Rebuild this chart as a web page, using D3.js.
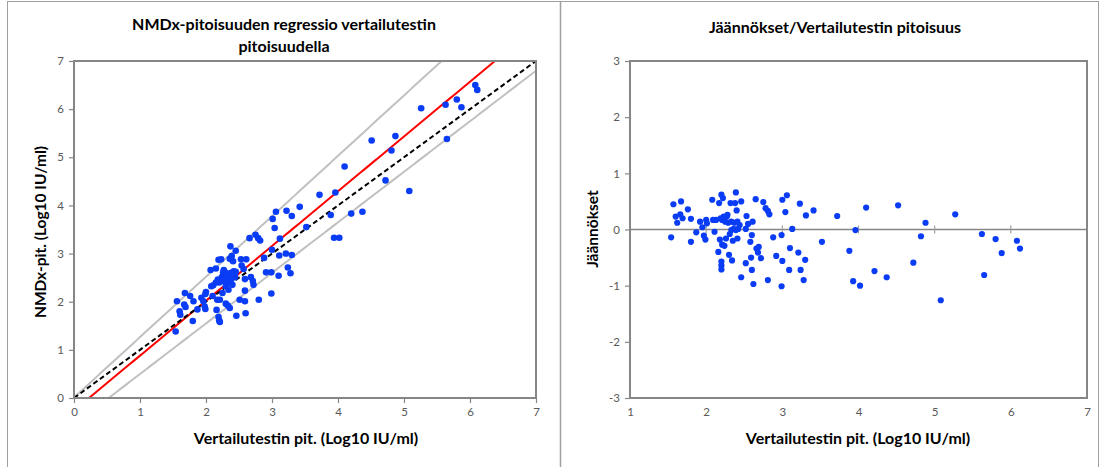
<!DOCTYPE html>
<html><head><meta charset="utf-8">
<script src="https://cdn.jsdelivr.net/npm/d3@7"></script>
<style>
html,body{margin:0;padding:0;background:#fff;}
svg{display:block;font-family:Lato,"Open Sans",sans-serif;}
</style></head>
<body>
<svg id="c" width="1100" height="467"></svg>
<script>
// ---- Data ----
const leftTitle = ["NMDx-pitoisuuden regressio vertailutestin", "pitoisuudella"];
const rightTitle = "Jäännökset/Vertailutestin pitoisuus";
const xLabel = "Vertailutestin pit. (Log10 IU/ml)";
const leftYLabel = "NMDx-pit. (Log10 IU/ml)";
const rightYLabel = "Jäännökset";

const leftXTicks = [0,1,2,3,4,5,6,7];
const leftYTicks = [0,1,2,3,4,5,6,7];
const rightXTicks = [1,2,3,4,5,6,7];
const rightYTicks = [-3,-2,-1,0,1,2,3];

// Scatter: reference test value (x) vs NMDx value (y)
const leftX = [1.54,1.56,1.60,1.61,1.68,1.67,1.69,1.76,1.80,1.81,1.87,1.93,1.96,1.98,1.99,1.99,2.00,2.07,2.08,2.11,2.10,2.15,2.16,2.15,2.18,2.17,2.19,2.19,2.20,2.21,2.21,2.23,2.24,2.25,2.26,2.27,2.30,2.30,2.31,2.33,2.34,2.36,2.36,2.37,2.39,2.38,2.40,2.41,2.42,2.44,2.45,2.46,2.51,2.53,2.54,2.57,2.59,2.59,2.60,2.61,2.59,2.66,2.68,2.71,2.72,2.75,2.79,2.82,2.80,2.88,2.91,2.99,2.99,3.00,3.01,3.04,3.06,3.10,3.11,3.12,3.21,3.22,3.24,3.28,3.30,3.30,3.42,3.52,3.72,3.89,3.94,3.96,4.02,4.10,4.20,4.37,4.51,4.72,4.81,4.87,5.08,5.26,5.63,5.65,5.80,5.87,6.08,6.11,
  2.22,2.25,2.28,2.30,2.33,2.35,2.38,2.40,2.43,2.28,2.20,2.32,2.45,2.27,2.36];
const leftY = [1.38,2.01,1.80,1.73,2.18,1.94,1.89,2.12,1.60,2.01,1.84,2.08,2.01,1.90,1.85,2.16,2.20,2.66,2.32,2.34,2.12,2.69,1.83,2.40,2.46,2.04,2.87,1.68,1.61,1.58,2.04,2.88,2.51,2.18,2.61,2.56,1.96,2.32,2.49,1.92,2.25,1.87,2.89,3.15,2.95,2.46,2.35,2.84,2.63,2.51,3.06,1.71,2.04,2.88,2.75,2.68,2.23,2.01,1.76,2.88,2.47,3.32,2.51,2.43,2.35,3.39,3.32,3.27,2.04,2.91,2.61,2.61,2.17,3.08,3.72,3.53,3.87,2.54,2.96,3.31,3.00,3.89,2.71,2.59,3.78,2.97,3.97,3.55,4.22,3.80,3.33,4.27,3.33,4.81,3.83,3.87,5.35,4.52,5.14,5.44,4.30,6.02,6.09,5.38,6.20,6.04,6.50,6.40,
  2.45,2.50,2.55,2.60,2.48,2.55,2.60,2.52,2.58,2.42,2.40,2.38,2.62,2.66,2.45];

// Reference lines: [slope, intercept]
const identityLine = [1.0, 0.0];
const regressionLine = [1.138, -0.258];
const upperBand = [1.255, 0.01];
const lowerBand = [1.05, -0.551];

// Residuals vs reference test value
const resX = [1.54,1.57,1.60,1.62,1.66,1.67,1.69,1.76,1.80,1.80,1.87,1.92,1.95,1.97,1.99,2.00,2.01,2.08,2.09,2.11,2.13,2.16,2.17,2.18,2.19,2.20,2.20,2.20,2.20,2.21,2.21,2.22,2.23,2.24,2.25,2.26,2.27,2.28,2.29,2.30,2.31,2.32,2.33,2.33,2.34,2.35,2.36,2.37,2.38,2.39,2.39,2.40,2.41,2.41,2.42,2.44,2.46,2.46,2.52,2.52,2.53,2.55,2.58,2.59,2.60,2.60,2.61,2.62,2.65,2.66,2.68,2.69,2.72,2.75,2.78,2.81,2.83,2.81,2.88,2.92,2.99,3.00,3.00,2.99,3.04,3.06,3.10,3.09,3.13,3.21,3.23,3.24,3.28,3.30,3.31,3.41,3.52,3.72,3.88,3.93,3.96,4.02,4.10,4.21,4.37,4.52,4.72,4.82,4.88,5.08,5.27,5.62,5.65,5.80,5.88,6.08,6.12];
const resY = [-0.14,0.45,0.23,0.12,0.27,0.50,0.20,0.36,0.19,-0.22,-0.05,0.14,0.04,-0.11,-0.18,0.17,0.11,0.53,0.17,-0.04,0.17,-0.40,0.47,-0.18,0.20,0.62,-0.64,-0.57,-0.71,-0.27,0.17,0.56,0.23,-0.29,0.14,-0.16,0.23,0.26,0.12,-0.45,-0.08,0.47,0.14,-0.01,-0.55,-0.20,0.01,0.12,0.47,0.66,-0.01,0.34,-0.16,0.14,0.01,0.08,0.50,-0.85,0.01,-0.60,0.24,0.10,-0.22,-0.50,-0.10,-0.72,0.14,-0.97,0.54,-0.34,-0.41,-0.31,-0.51,0.49,0.38,0.33,0.27,-0.90,-0.14,-0.47,-0.10,0.53,-0.56,-1.01,0.31,0.61,-0.33,-0.72,0.01,-0.41,0.46,-0.72,-0.90,-0.54,0.25,0.34,-0.22,0.24,-0.38,-0.92,-0.01,-1.00,0.39,-0.74,-0.85,0.43,-0.59,-0.12,0.12,-1.26,0.27,-0.08,-0.81,-0.17,-0.42,-0.20,-0.34];

// ---- Drawing ----
const svg = d3.select("#c");
const GRID = "#868686", TICKTXT = "#595959", DOT = "#0a3cf5";
const fmt = d => String(d);

// panel frames
svg.append("rect").attr("x",7.5).attr("y",1.5).attr("width",1091).attr("height",470)
  .attr("fill","none").attr("stroke","#a0a0a0").attr("stroke-width",1);
svg.append("line").attr("x1",560.5).attr("x2",560.5).attr("y1",1).attr("y2",467)
  .attr("stroke","#a0a0a0").attr("stroke-width",1.5);

function styleAxis(g){
  g.select(".domain").remove();
  g.selectAll(".tick line").attr("stroke",GRID).attr("stroke-width",1.2);
  g.selectAll(".tick text").attr("fill",TICKTXT).style("font-size","11.5px")
    .style("font-family","Lato, sans-serif");
}

// ===== Left chart =====
const lx = d3.scaleLinear().domain([0,7]).range([74,536]);
const ly = d3.scaleLinear().domain([0,7]).range([398,61]);

svg.append("clipPath").attr("id","clipL").append("rect")
  .attr("x",lx(0)).attr("y",ly(7)).attr("width",lx(7)-lx(0)).attr("height",ly(0)-ly(7));

const gL = svg.append("g");
gL.append("g").attr("transform",`translate(0,${ly(0)})`)
  .call(d3.axisBottom(lx).tickValues(leftXTicks).tickSize(5).tickPadding(5).tickFormat(fmt))
  .call(styleAxis);
gL.append("g").attr("transform",`translate(${lx(0)},0)`)
  .call(d3.axisLeft(ly).tickValues(leftYTicks).tickSize(5).tickPadding(5).tickFormat(fmt))
  .call(styleAxis);

const lineGen = (m) => { const xs = d3.range(0, 7.001, 0.05); return xs.map(x=>[lx(x), ly(m[0]*x+m[1])]); };
const linesG = gL.append("g").attr("clip-path","url(#clipL)");
function drawLine(m, color, dash){
  linesG.append("path").attr("d", d3.line()(lineGen(m))).attr("fill","none")
    .attr("stroke",color).attr("stroke-width",2).attr("stroke-dasharray",dash||null);
}
drawLine(upperBand, "#c0c0c0");
drawLine(lowerBand, "#c0c0c0");
drawLine(regressionLine, "#ff0000");
drawLine(identityLine, "#000000", "5,3");

gL.append("g").selectAll("circle").data(leftX.map((x,i)=>[x,leftY[i]])).join("circle")
  .attr("cx",d=>lx(d[0])).attr("cy",d=>ly(d[1])).attr("r",3.3).attr("fill",DOT);

gL.append("rect").attr("x",lx(0)).attr("y",ly(7)).attr("width",lx(7)-lx(0)).attr("height",ly(0)-ly(7))
  .attr("fill","none").attr("stroke",GRID).attr("stroke-width",2);

gL.append("text").attr("x",284).attr("y",30).attr("text-anchor","middle")
  .style("font-weight","bold").style("font-size","16px").text(leftTitle[0]);
gL.append("text").attr("x",284).attr("y",52).attr("text-anchor","middle")
  .style("font-weight","bold").style("font-size","16px").text(leftTitle[1]);
gL.append("text").attr("x",306).attr("y",444).attr("text-anchor","middle")
  .style("font-weight","bold").style("font-size","16px").text(xLabel);
gL.append("text").attr("transform","translate(46,232) rotate(-90)").attr("text-anchor","middle")
  .style("font-weight","bold").style("font-size","15.5px").text(leftYLabel);

// ===== Right chart =====
const rx = d3.scaleLinear().domain([1,7]).range([630,1087]);
const ry = d3.scaleLinear().domain([-3,3]).range([398,61]);
const gR = svg.append("g");

gR.append("g").attr("transform",`translate(0,${ry(-3)})`)
  .call(d3.axisBottom(rx).tickValues(rightXTicks).tickSize(0).tickPadding(10).tickFormat(fmt))
  .call(styleAxis);
gR.append("g").attr("transform",`translate(${rx(1)},0)`)
  .call(d3.axisLeft(ry).tickValues(rightYTicks).tickSize(5).tickPadding(5).tickFormat(fmt))
  .call(styleAxis);

// zero line with tick marks
gR.append("line").attr("x1",rx(1)).attr("x2",rx(7)).attr("y1",ry(0)).attr("y2",ry(0))
  .attr("stroke",GRID).attr("stroke-width",1.5);
gR.append("g").selectAll("line").data(rightXTicks.filter(d=>d>1 && d<7)).join("line")
  .attr("x1",d=>rx(d)).attr("x2",d=>rx(d)).attr("y1",ry(0)-4).attr("y2",ry(0)+4)
  .attr("stroke","#a0a0a0").attr("stroke-width",1.2);

gR.append("g").selectAll("circle").data(resX.map((x,i)=>[x,resY[i]])).join("circle")
  .attr("cx",d=>rx(d[0])).attr("cy",d=>ry(d[1])).attr("r",3.1).attr("fill",DOT);

gR.append("rect").attr("x",rx(1)).attr("y",ry(3)).attr("width",rx(7)-rx(1)).attr("height",ry(-3)-ry(3))
  .attr("fill","none").attr("stroke",GRID).attr("stroke-width",2);

gR.append("text").attr("x",835).attr("y",33).attr("text-anchor","middle")
  .style("font-weight","bold").style("font-size","16px").text(rightTitle);
gR.append("text").attr("x",858).attr("y",444).attr("text-anchor","middle")
  .style("font-weight","bold").style("font-size","16px").text(xLabel);
gR.append("text").attr("transform","translate(598,229) rotate(-90)").attr("text-anchor","middle")
  .style("font-weight","bold").style("font-size","15.5px").text(rightYLabel);
</script>
</body></html>
